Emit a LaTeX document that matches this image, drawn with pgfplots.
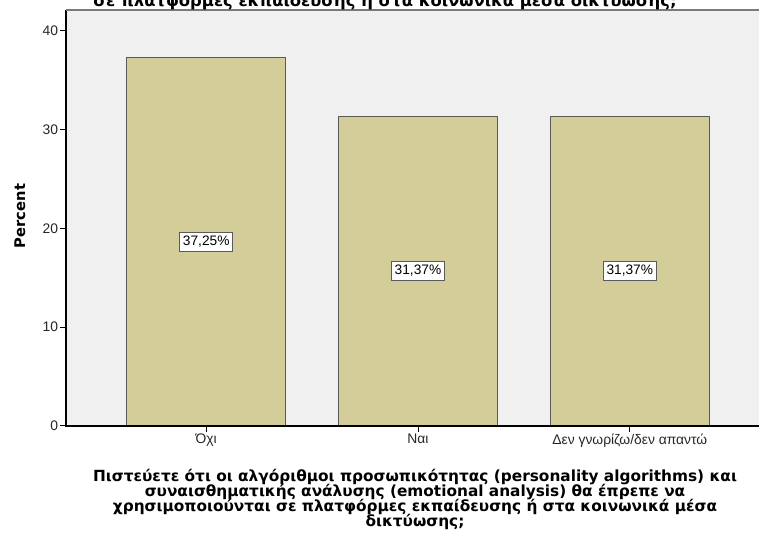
\documentclass[border=0pt]{standalone}
\usepackage{pgfplots}
\pgfplotsset{compat=1.18}
\usepackage{pgfplotstable}
\usepackage{fontspec}
\setmainfont{Liberation Sans}
\newfontfamily\djv{DejaVu Sans}

\definecolor{bgc}{HTML}{F0F0F0}
\definecolor{barc}{HTML}{D3CE99}
\definecolor{bard}{HTML}{5A5A5A}
\definecolor{topline}{HTML}{7A7A7A}

% percent of answers per category
\pgfplotstableread{
x v
0 37.25
1 31.37
2 31.37
}\answers

\begin{document}
\begin{tikzpicture}[x=0.75pt,y=0.75pt]
\begin{axis}[
  at={(49.5pt,84pt)}, anchor=south west,
  scale only axis, width=528pt, height=312pt,
  xmin=-0.662, xmax=2.662, ymin=0, ymax=42.1,
  axis background/.style={fill=bgc},
  axis line style={draw=none},
  xtick={0,1,2},
  xticklabels={Όχι, Ναι, Δεν γνωρίζω/δεν απαντώ},
  ytick={0,10,20,30,40},
  xtick pos=bottom, ytick pos=left,
  tick align=outside, major tick length=4.5pt,
  tick style={black, line width=0.75pt},
  /pgf/number format/assume math mode=true,
  ticklabel style={font=\fontsize{10.4}{12}\selectfont, text=black!85},
  yticklabel style={inner sep=1.2pt},
  xticklabel style={inner sep=1.5pt},
  clip=false,
]
\addplot[ybar, bar width=0.752, bar shift=0pt,
         fill=barc, draw=bard, line width=0.75pt]
  table[x=x, y=v] {\answers};
\addplot[draw=none, mark=none,
  nodes near coords={\pgfmathprintnumber[fixed, fixed zerofill, precision=2, use comma, assume math mode=true]{\pgfplotspointmeta}\%},
  point meta=explicit,
  every node near coord/.style={anchor=center, fill=white, draw=bard,
     line width=0.75pt, inner xsep=2.2pt, inner ysep=2.8pt,
     font=\fontsize{10.3}{12}\selectfont},
  ] table[x=x, y expr=\thisrow{v}/2, meta=v] {\answers};
\draw[black, line width=0.9pt] (rel axis cs:0,1) -- (rel axis cs:0,0) -- (rel axis cs:1,0);
\draw[topline, line width=1.3pt] (rel axis cs:0,1) -- (rel axis cs:1,1);
\end{axis}

% axis titles
\node[rotate=90, font={\djv\bfseries\fontsize{11}{13}\selectfont}] at (20,322) {Percent};
\node[anchor=north, align=center, inner sep=0pt,
      font={\djv\bfseries\fontsize{11.5}{11.25}\selectfont\lineskiplimit=-20pt}] at (415,69)
  {Πιστεύετε ότι οι αλγόριθμοι προσωπικότητας (personality algorithms) και\\
   συναισθηματικής ανάλυσης (emotional analysis) θα έπρεπε να\\
   χρησιμοποιούνται σε πλατφόρμες εκπαίδευσης ή στα κοινωνικά μέσα\\
   δικτύωσης;};
% chart title, last line
\node[anchor=base, inner sep=0pt, font={\djv\bfseries\fontsize{12.3}{14}\selectfont}] at (385,531)
  {σε πλατφόρμες εκπαίδευσης ή στα κοινωνικά μέσα δικτύωσης;};

\pgfresetboundingbox
\useasboundingbox (0,0) rectangle (759,538);
\end{tikzpicture}
\end{document}
